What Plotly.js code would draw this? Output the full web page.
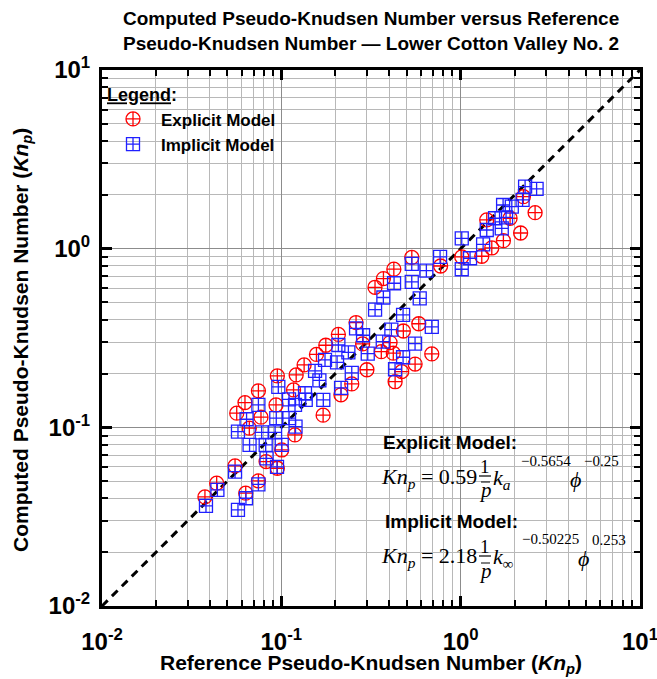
<!DOCTYPE html>
<html><head><meta charset="utf-8">
<script src="https://cdn.plot.ly/plotly-3.0.1.min.js"></script>
<style>html,body{margin:0;padding:0;background:#fff}</style>
</head><body><div id="chart" style="width:657px;height:679px"></div>
<script>
// ---- data ----
const explicitX = [0.0375,0.0436,0.0552,0.0745,0.0633,0.0663,0.0564,0.0627,0.0745,0.077,0.0934,0.095,0.121,0.117,0.1005,0.119,0.0822,0.095,0.171,0.215,0.247,0.134,0.300,0.157,0.177,0.208,0.261,0.284,0.361,0.421,0.479,0.584,0.404,0.690,0.557,0.469,0.431,0.333,0.371,0.424,0.534,0.773,1.014,1.311,1.491,1.731,2.159,2.60,1.398,1.886,2.237];
const explicitY = [0.0408,0.0487,0.0608,0.0501,0.0428,0.0989,0.120,0.1375,0.160,0.114,0.1334,0.194,0.1965,0.162,0.0747,0.0907,0.0643,0.059,0.117,0.152,0.175,0.2235,0.210,0.256,0.288,0.331,0.386,0.293,0.265,0.260,0.346,0.380,0.298,0.2575,0.226,0.205,0.180,0.608,0.680,0.768,0.893,0.800,0.899,0.907,1.009,1.109,1.224,1.59,1.448,1.48,1.954];
const implicitX = [0.0380,0.0440,0.0552,0.0745,0.0635,0.0573,0.0827,0.0946,0.0665,0.0818,0.1005,0.0573,0.0777,0.0923,0.0640,0.0937,0.1104,0.120,0.0745,0.0962,0.1192,0.1104,0.1368,0.1714,0.1355,0.163,0.1542,0.2153,0.247,0.2045,0.208,0.2365,0.1752,0.3033,0.261,0.2856,0.3677,0.4108,0.4774,0.3332,0.3706,0.5912,0.4252,0.5337,0.5337,0.6438,0.7676,0.6901,0.5568,0.4774,0.4306,1.014,1.014,1.128,1.334,1.398,1.555,1.791,1.695,1.724,1.928,2.214,2.287,2.651];
const implicitY = [0.0363,0.0447,0.0565,0.0479,0.0401,0.0345,0.0671,0.0600,0.0797,0.0797,0.0797,0.0946,0.0936,0.0936,0.111,0.1125,0.1125,0.1009,0.1334,0.1683,0.1334,0.1432,0.1423,0.1423,0.1552,0.183,0.2068,0.1662,0.2016,0.2307,0.289,0.2625,0.2383,0.2585,0.3576,0.3276,0.3017,0.3522,0.4256,0.4557,0.5331,0.5276,0.6403,0.6511,0.821,0.7531,0.8987,0.3646,0.2940,0.2468,0.2114,1.143,0.767,0.884,1.056,1.272,1.48,1.495,1.3,1.756,1.718,1.873,2.223,2.159];
const lineX = [0.01, 10];
const lineY = [0.01, 10];
const tickVals = [0.01, 0.1, 1, 10];
const tickText = ['10<sup>-2</sup>', '10<sup>-1</sup>', '10<sup>0</sup>', '10<sup>1</sup>'];
const seriesNames = ['Explicit Model', 'Implicit Model'];

// ---- layout helpers (pixel -> paper) ----
const W = 657, H = 679, L = 102, R = 640, T = 70, B = 606;
const px = v => (v - L) / (R - L);
const py = v => (B - v) / (B - T);

const minorVals = [];
for (let d = -2; d < 1; d++) for (let m = 2; m <= 9; m++) minorVals.push(m * Math.pow(10, d));

const sans = 'Liberation Sans, Arial, sans-serif';
const serif = 'Liberation Serif, Times New Roman, serif';

function axis() {
  return {
    type: 'log', range: [-2, 1], tickmode: 'array', tickvals: tickVals, ticktext: tickText,
    ticks: 'inside', ticklen: 10, tickwidth: 3, tickcolor: '#000',
    showline: true, linewidth: 3, linecolor: '#000', mirror: 'ticks',
    showgrid: true, gridcolor: '#8c8c8c', gridwidth: 1, zeroline: false, fixedrange: true,
    ticklabeloverflow: 'allow',
    minor: { tickmode: 'array', tickvals: minorVals, ticks: 'inside', ticklen: 6, tickwidth: 2,
             tickcolor: '#000', showgrid: true, gridcolor: '#b8b8b8', gridwidth: 1 },
    tickfont: { family: sans, size: 24, color: '#000', weight: 'bold' }
  };
}
const xa = axis(); xa.ticklabelstandoff = 12;
const ya = axis(); ya.ticklabelstandoff = 4;

const traces = [
  { x: lineX, y: lineY, mode: 'lines', showlegend: false, hoverinfo: 'skip',
    line: { color: '#000', width: 3, dash: '8px,6px' } },
  { x: explicitX, y: explicitY, mode: 'markers', name: seriesNames[0],
    marker: { symbol: 'circle-cross-open', size: 14, color: '#ff0000', line: { width: 1.3 } } },
  { x: implicitX, y: implicitY, mode: 'markers', name: seriesNames[1],
    marker: { symbol: 'square-cross-open', size: 13, color: '#2020ff', line: { width: 1.3 } } }
];

function ann(text, x, y, opts) {
  return Object.assign({ text: text, x: px(x), y: py(y), xref: 'paper', yref: 'paper',
    showarrow: false, xanchor: 'left', yanchor: 'middle',
    font: { family: serif, size: 22, color: '#000' } }, opts || {});
}
const boldLab = { family: sans, size: 19, color: '#000', weight: 'bold' };
const xLab = { family: sans, size: 21, color: '#000', weight: 'bold' };
const yLab = { family: sans, size: 21, color: '#000', weight: 'bold' };
const supF = { family: serif, size: 15, color: '#000' };
const oneF = { family: serif, size: 19, color: '#000' };
const pF = { family: serif, size: 21, color: '#000' };

const annotations = [
  ann('Computed Pseudo-Knudsen Number versus Reference<br>Pseudo-Knudsen Number \u2014 Lower Cotton Valley No. 2',
      371, 31, { xanchor: 'center', font: boldLab }),
  ann('Reference Pseudo-Knudsen Number (<i>Kn<sub>p</sub></i>)', 371, 664, { xanchor: 'center', font: xLab }),
  ann('Computed Pseudo-Knudsen Number (<i>Kn<sub>p</sub></i>)', 22, 340, { xanchor: 'center', textangle: -90, font: yLab }),
  ann('Explicit Model:', 381, 443, { font: boldLab }),
  ann('<i>Kn</i><sub><i>p</i></sub> = 0.59', 379, 478),
  ann('1', 485, 466, { xanchor: 'center', font: oneF }),
  ann('<i>p</i>', 485, 490, { xanchor: 'center', font: pF }),
  ann('<i>k</i><sub><i>a</i></sub>', 491, 479),
  ann('\u22120.5654', 519, 461, { font: supF }),
  ann('<i>\u03D5</i>', 568, 479),
  ann('\u22120.25', 582, 461, { font: supF }),
  ann('Implicit Model:', 383, 521, { font: boldLab }),
  ann('<i>Kn</i><sub><i>p</i></sub> = 2.18', 379, 557),
  ann('1', 485, 546, { xanchor: 'center', font: oneF }),
  ann('<i>p</i>', 485, 571, { xanchor: 'center', font: pF }),
  ann('<i>k</i><sub>\u221E</sub>', 491, 558),
  ann('\u22120.50225', 520, 539, { font: supF }),
  ann('<i>\u03D5</i>', 576, 558),
  ann('0.253', 590, 540, { font: supF })
];

const shapes = [
  { type: 'rect', xref: 'paper', yref: 'paper', x0: px(103.5), x1: px(284), y0: py(152), y1: py(80),
    fillcolor: '#fff', line: { width: 0 }, layer: 'between' },
  { type: 'rect', xref: 'paper', yref: 'paper', x0: px(371), x1: px(638.5), y0: py(604.5), y1: py(428),
    fillcolor: '#fff', line: { width: 0 }, layer: 'between' },
  { type: 'line', xref: 'paper', yref: 'paper', x0: px(479), x1: px(491), y0: py(476), y1: py(476), line: { color: '#000', width: 1.2 } },
  { type: 'line', xref: 'paper', yref: 'paper', x0: px(481), x1: px(490), y0: py(482), y1: py(482), line: { color: '#000', width: 1 } },
  { type: 'line', xref: 'paper', yref: 'paper', x0: px(479), x1: px(491), y0: py(556), y1: py(556), line: { color: '#000', width: 1.2 } },
  { type: 'line', xref: 'paper', yref: 'paper', x0: px(481), x1: px(490), y0: py(563), y1: py(563), line: { color: '#000', width: 1 } }
];

const layout = {
  width: W, height: H, margin: { l: L, r: W - R, t: T, b: H - B },
  paper_bgcolor: '#fff', plot_bgcolor: '#fff',
  xaxis: xa, yaxis: ya,
  showlegend: true,
  legend: { x: px(105), y: py(78), xanchor: 'left', yanchor: 'top', bgcolor: 'rgba(0,0,0,0)', borderwidth: 0,
            itemwidth: 46, tracegroupgap: 0,
            title: { text: '<b><u>Legend</u>:</b>', font: { family: sans, size: 18, color: '#000' } },
            font: { family: sans, size: 17, color: '#000', weight: 'bold' } },
  annotations: annotations, shapes: shapes
};

Plotly.newPlot('chart', traces, layout, { displayModeBar: false, staticPlot: true });
</script>
</body></html>
